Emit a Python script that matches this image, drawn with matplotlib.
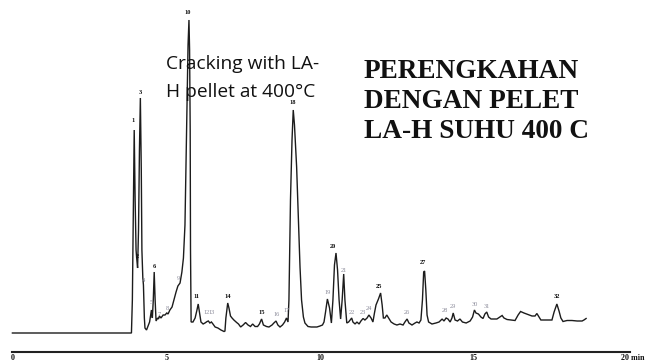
import matplotlib
matplotlib.use("Agg")
import matplotlib.pyplot as plt

# Chromatogram trace: retention time (min) and detector response (arbitrary units)
trace_time = [
    0.00, 3.87, 3.90, 3.94, 3.96, 3.99, 4.02, 4.04, 4.07, 4.10, 4.13, 4.16, 4.19,
    4.21, 4.24, 4.26, 4.29, 4.31, 4.36, 4.41, 4.46, 4.49, 4.52, 4.55, 4.58, 4.61,
    4.64, 4.67, 4.72, 4.75, 4.78, 4.83, 4.90, 4.96, 5.02, 5.06, 5.12, 5.19, 5.25,
    5.32, 5.38, 5.45, 5.51, 5.56, 5.61, 5.64, 5.68, 5.71, 5.74, 5.76, 5.78, 5.79,
    5.81, 5.87, 5.94, 6.00, 6.04, 6.08, 6.13, 6.20, 6.26, 6.33, 6.37, 6.42, 6.47,
    6.52, 6.59, 6.68, 6.78, 6.88, 6.91, 6.94, 7.00, 7.04, 7.09, 7.14, 7.20, 7.29,
    7.35, 7.42, 7.50, 7.58, 7.66, 7.74, 7.81, 7.89, 7.97, 8.03, 8.10, 8.16, 8.26,
    8.34, 8.44, 8.50, 8.57, 8.63, 8.70, 8.78, 8.85, 8.91, 8.96, 8.99, 9.04, 9.09,
    9.13, 9.17, 9.24, 9.30, 9.35, 9.40, 9.46, 9.51, 9.61, 9.71, 9.81, 9.90, 10.00,
    10.08, 10.13, 10.18, 10.24, 10.31, 10.37, 10.42, 10.47, 10.52, 10.57, 10.62,
    10.67, 10.72, 10.77, 10.81, 10.87, 10.93, 10.98, 11.03, 11.07, 11.14, 11.20,
    11.27, 11.33, 11.40, 11.46, 11.53, 11.59, 11.66, 11.72, 11.77, 11.82, 11.90,
    11.97, 12.02, 12.06, 12.11, 12.17, 12.23, 12.31, 12.41, 12.50, 12.60, 12.70,
    12.76, 12.83, 12.89, 12.99, 13.09, 13.15, 13.22, 13.28, 13.33, 13.37, 13.40,
    13.44, 13.48, 13.53, 13.64, 13.77, 13.87, 13.97, 14.03, 14.10, 14.16, 14.23,
    14.29, 14.33, 14.39, 14.47, 14.55, 14.63, 14.75, 14.88, 14.96, 15.02, 15.07,
    15.15, 15.23, 15.30, 15.36, 15.42, 15.48, 15.56, 15.66, 15.75, 15.85, 15.92,
    15.98, 16.08, 16.21, 16.34, 16.44, 16.52, 16.63, 16.76, 16.89, 16.99, 17.05,
    17.12, 17.18, 17.31, 17.44, 17.54, 17.61, 17.70, 17.77, 17.83, 17.90, 18.03,
    18.19, 18.36, 18.52, 18.58, 18.65,
]
trace_signal = [
    0, 0, 33, 153, 203, 133, 83, 75, 65, 103, 183, 235, 163,
    83, 55, 48, 15, 5, 3, 7, 11, 17, 23, 15, 33, 61,
    33, 12, 15, 14, 17, 15, 18, 18, 20, 19, 23, 26, 33,
    41, 47, 50, 61, 75, 108, 163, 233, 288, 313, 283, 203, 83,
    11, 11, 15, 23, 29, 21, 11, 9, 10, 11.5, 12, 10, 11,
    9, 6, 5, 3, 1.5, 2, 15, 30, 25, 17, 15, 13, 10.5,
    9, 6, 8, 10.5, 8, 6.5, 9, 6.5, 6.5, 9, 14, 8, 6.5,
    6, 8, 10, 12, 8, 6, 8, 11, 15, 11, 33, 133, 193,
    223, 208, 166, 113, 66, 33, 16, 10, 6.5, 6, 6, 6, 7,
    8, 11, 21, 34, 25, 10, 33, 68, 80, 63, 33,
    14, 33, 59, 33, 10, 11, 13, 15, 11, 9, 11,
    9, 12, 14.5, 13, 15, 18, 15, 11, 20, 28, 34,
    40, 28, 15, 15, 18, 15, 11, 9, 8, 9, 8,
    11, 14, 10, 8, 10, 11, 10, 13, 33, 61, 62,
    43, 18, 11, 9, 10, 11, 14, 12, 15, 14, 11,
    15, 20, 13, 12, 14, 11, 10, 12, 16, 23, 20,
    19, 16, 14.5, 19, 21, 16, 14, 14, 14, 16, 17.5,
    15, 13.5, 13, 12.5, 18, 21.5, 20, 18.5, 17, 17, 19.5,
    16, 13, 13, 13, 13, 21, 29, 22, 15, 11.5, 12.5,
    12.5, 12, 12, 13, 14.5,
]

# Peak numbering: retention time of each label and the height it sits at
peak_ids = [str(i) for i in range(1, 33)]
peak_rt = [3.93, 4.05, 4.15, 4.25, 4.51, 4.60, 4.77, 5.03, 5.38, 5.71,
           6.00, 6.30, 6.49, 7.01, 8.11, 8.60, 8.93, 9.12, 10.25, 10.41,
           10.77, 11.03, 11.39, 11.59, 11.92, 12.84, 13.35, 14.06, 14.32,
           15.02, 15.42, 17.70]
peak_label_height = [213, 77, 241, 53, 31, 66, 19, 24, 54, 320,
                     36, 20, 20, 37, 20, 19, 23, 230, 40, 86,
                     63, 20, 20, 24, 46, 21, 70, 22, 27,
                     29, 27, 36]

axis_ticks = [0, 5, 10, 15, 20]
axis_tick_labels = ["0", "5", "10", "15", "20 min"]

title_en = ["Cracking with LA-", "H pellet at 400\u00b0C"]
title_id = ["PERENGKAHAN", "DENGAN PELET", "LA-H SUHU 400 C"]

# labels printed in a lighter ink on the chromatogram
faint_ids = {"4", "5", "7", "8", "9", "12", "13", "16", "17", "19", "21",
             "22", "23", "24", "26", "28", "29", "30", "31"}

W, H = 647, 362
fig = plt.figure(figsize=(W / 100, H / 100), dpi=100)
fig.patch.set_facecolor("white")
ax = fig.add_axes([0, 10 / H, 1, 352 / H])
ax.set_xlim(-0.403, 20.63)
ax.set_ylim(-19, 333)

ax.plot(trace_time, trace_signal, color="#1c1c1c", lw=1.0,
        solid_joinstyle="miter")

for pid, rt, hgt in zip(peak_ids, peak_rt, peak_label_height):
    faint = pid in faint_ids
    ax.text(rt, hgt, pid, ha="center", va="center",
            fontsize=4.6, family="Liberation Serif",
            fontweight="normal" if faint else "bold",
            color="#8a8a99" if faint else "#111111")

# time axis
for s in ["top", "right", "left"]:
    ax.spines[s].set_visible(False)
ax.spines["bottom"].set_bounds(0, 20.08)
ax.spines["bottom"].set_linewidth(1.5)
ax.spines["bottom"].set_color("#222222")
ax.set_yticks([])
ax.set_xticks([])
for t, lbl in zip(axis_ticks, axis_tick_labels):
    last = lbl.endswith("min")
    ax.annotate(lbl, xy=(t, 0), xycoords=("data", "axes fraction"),
                xytext=(-5 if last else 0, -1.2), textcoords="offset points",
                ha="left" if last else "center", va="top",
                fontsize=5.8, family="Liberation Serif", fontweight="bold",
                color="#111111")

# titles
fig.text(166 / W, 1 - 69 / H, title_en[0], fontsize=13.8, family="Open Sans",
         color="#111111", va="baseline", ha="left")
fig.text(166 / W, 1 - 97 / H, title_en[1], fontsize=13.8, family="Open Sans",
         color="#111111", va="baseline", ha="left")
for i, line in enumerate(title_id):
    fig.text(364 / W, 1 - (78.3 + 30 * i) / H, line, fontsize=19.6,
             family="Liberation Serif", fontweight="bold", color="#111111",
             va="baseline", ha="left")

fig.savefig("out.png", dpi=100)
